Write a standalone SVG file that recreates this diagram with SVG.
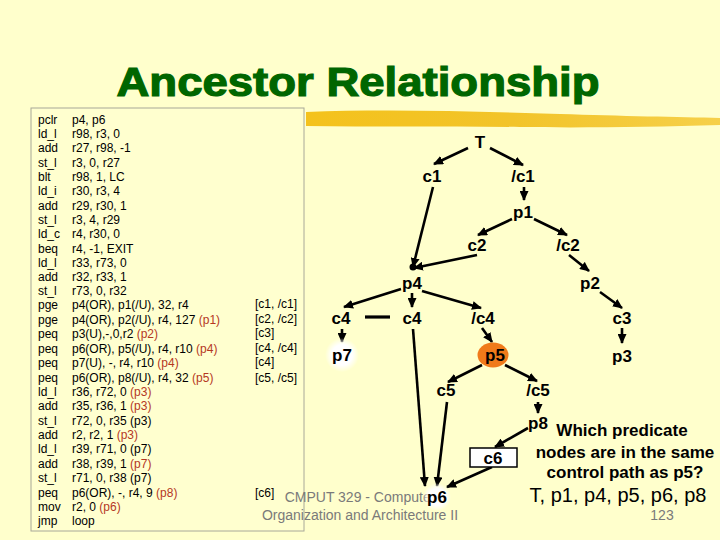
<svg xmlns="http://www.w3.org/2000/svg" width="720" height="540" viewBox="0 0 720 540">
<defs>
<style>
.code{font-family:"Liberation Sans",Arial,sans-serif;font-size:12px;fill:#000}
.red{fill:#B5371F}
.node{font-family:"Liberation Sans",Arial,sans-serif;font-size:17px;font-weight:bold;fill:#000;text-anchor:middle}
.q{font-family:"Liberation Sans",Arial,sans-serif;font-size:17px;font-weight:bold;fill:#000;text-anchor:middle}
.foot{font-family:"Liberation Sans",Arial,sans-serif;font-size:14px;fill:#7a7a7a;text-anchor:middle}
.e{stroke:#000;stroke-width:2.6;fill:none;marker-end:url(#ah)}
</style>
<marker id="ah" markerUnits="userSpaceOnUse" markerWidth="10" markerHeight="9" refX="9" refY="4.5" orient="auto">
<path d="M0,0 L10,4.5 L0,9 z" fill="#000"/>
</marker>
<radialGradient id="glow">
<stop offset="0" stop-color="#fff"/>
<stop offset="0.6" stop-color="#fff"/>
<stop offset="1" stop-color="#fff" stop-opacity="0"/>
</radialGradient>
<linearGradient id="brush" x1="0" y1="0" x2="1" y2="0">
<stop offset="0" stop-color="#F4C21C"/>
<stop offset="0.5" stop-color="#F2C42A"/>
<stop offset="1" stop-color="#F6D04A"/>
</linearGradient>
</defs>
<rect width="720" height="540" fill="#FFFFCC"/>
<text x="358" y="96" font-family="'Liberation Sans',Arial,sans-serif" font-size="41" font-weight="bold" fill="#006600" text-anchor="middle" textLength="483" lengthAdjust="spacingAndGlyphs" stroke="#006600" stroke-width="1.2">Ancestor Relationship</text>
<path d="M306,112 C380,109 470,111 560,114 C620,116 680,117 720,118 L720,125 C650,127 580,128 520,127 C440,126 370,127 306,126 Z" fill="url(#brush)"/>
<g id="code">
<rect x="31" y="108" width="273" height="423" fill="#FFFFCF" stroke="#A8A898" stroke-width="1"/>
<g class="code">
<text x="38" y="124">pclr</text><text x="72" y="124">p4, p6</text>
<text x="38" y="138">ld_l</text><text x="72" y="138">r98, r3, 0</text>
<text x="38" y="152">add</text><text x="72" y="152">r27, r98, -1</text>
<text x="38" y="167">st_l</text><text x="72" y="167">r3, 0, r27</text>
<text x="38" y="181">blt</text><text x="72" y="181">r98, 1, LC</text>
<text x="38" y="195">ld_i</text><text x="72" y="195">r30, r3, 4</text>
<text x="38" y="210">add</text><text x="72" y="210">r29, r30, 1</text>
<text x="38" y="224">st_l</text><text x="72" y="224">r3, 4, r29</text>
<text x="38" y="238">ld_c</text><text x="72" y="238">r4, r30, 0</text>
<text x="38" y="253">beq</text><text x="72" y="253">r4, -1, EXIT</text>
<text x="38" y="267">ld_l</text><text x="72" y="267">r33, r73, 0</text>
<text x="38" y="281">add</text><text x="72" y="281">r32, r33, 1</text>
<text x="38" y="295">st_l</text><text x="72" y="295">r73, 0, r32</text>
<text x="38" y="309">pge</text><text x="72" y="309">p4(OR), p1(/U), 32, r4</text>
<text x="38" y="324">pge</text><text x="72" y="324">p4(OR), p2(/U), r4, 127 <tspan class="red">(p1)</tspan></text>
<text x="38" y="338">peq</text><text x="72" y="338">p3(U),-,0,r2 <tspan class="red">(p2)</tspan></text>
<text x="38" y="353">peq</text><text x="72" y="353">p6(OR), p5(/U), r4, r10 <tspan class="red">(p4)</tspan></text>
<text x="38" y="367">peq</text><text x="72" y="367">p7(U), -, r4, r10 <tspan class="red">(p4)</tspan></text>
<text x="38" y="382">peq</text><text x="72" y="382">p6(OR), p8(/U), r4, 32 <tspan class="red">(p5)</tspan></text>
<text x="38" y="396">ld_l</text><text x="72" y="396">r36, r72, 0 <tspan class="red">(p3)</tspan></text>
<text x="38" y="410">add</text><text x="72" y="410">r35, r36, 1 <tspan class="red">(p3)</tspan></text>
<text x="38" y="425">st_l</text><text x="72" y="425">r72, 0, r35 (p3)</text>
<text x="38" y="439">add</text><text x="72" y="439">r2, r2, 1 <tspan class="red">(p3)</tspan></text>
<text x="38" y="453">ld_l</text><text x="72" y="453">r39, r71, 0 (p7)</text>
<text x="38" y="468">add</text><text x="72" y="468">r38, r39, 1 <tspan class="red">(p7)</tspan></text>
<text x="38" y="482">st_l</text><text x="72" y="482">r71, 0, r38 (p7)</text>
<text x="38" y="497">peq</text><text x="72" y="497">p6(OR), -, r4, 9 <tspan class="red">(p8)</tspan></text>
<text x="38" y="511">mov</text><text x="72" y="511">r2, 0 <tspan class="red">(p6)</tspan></text>
<text x="38" y="525">jmp</text><text x="72" y="525">loop</text>
<text x="255" y="308">[c1, /c1]</text>
<text x="255" y="323">[c2, /c2]</text>
<text x="255" y="337">[c3]</text>
<text x="255" y="352">[c4, /c4]</text>
<text x="255" y="366">[c4]</text>
<text x="255" y="382">[c5, /c5]</text>
<text x="255" y="497">[c6]</text>
</g>
</g>
<g id="footer">
<text class="foot" x="360" y="502">CMPUT 329 - Computer</text>
<text class="foot" x="360" y="520">Organization and Architecture II</text>
<text class="foot" x="662" y="520">123</text>
</g>
<g id="connectors">
<line class="e" x1="468" y1="148" x2="434" y2="164"/>
<line class="e" x1="490" y1="148" x2="523" y2="165"/>
<line class="e" x1="524" y1="187" x2="524" y2="200"/>
<line class="e" x1="512" y1="219" x2="478" y2="235"/>
<line class="e" x1="534" y1="219" x2="567" y2="235"/>
<line class="e" x1="433" y1="187" x2="413" y2="267"/>
<line class="e" x1="477" y1="255" x2="414" y2="268"/>
<circle cx="413" cy="267" r="3.5" fill="#000"/>
<line class="e" x1="569" y1="255" x2="589" y2="271"/>
<line class="e" x1="401" y1="289" x2="344" y2="307"/>
<line class="e" x1="412" y1="293" x2="412" y2="307"/>
<line class="e" x1="422" y1="291" x2="481" y2="308"/>
<line class="e" x1="600" y1="292" x2="622" y2="308"/>
<line x1="365" y1="317" x2="390" y2="317" stroke="#000" stroke-width="3.2"/>
<line class="e" x1="342" y1="329" x2="342" y2="342"/>
<line class="e" x1="413" y1="329" x2="425" y2="486"/>
<line class="e" x1="482" y1="328" x2="492" y2="342"/>
<line class="e" x1="482" y1="365" x2="448" y2="382"/>
<line class="e" x1="505" y1="365" x2="537" y2="381"/>
<line class="e" x1="622" y1="328" x2="622" y2="343"/>
<line class="e" x1="447" y1="402" x2="437" y2="486"/>
<line class="e" x1="538" y1="402" x2="538" y2="413"/>
<line class="e" x1="528" y1="428" x2="495" y2="447"/>
<line class="e" x1="492" y1="467" x2="447" y2="487"/>
</g>
<g id="n-T"><text class="node" x="480" y="148">T</text></g>
<g id="n-c1"><text class="node" x="432" y="182">c1</text></g>
<g id="n-nc1"><text class="node" x="523" y="182">/c1</text></g>
<g id="n-p1"><text class="node" x="523" y="218">p1</text></g>
<g id="n-c2"><text class="node" x="477" y="251">c2</text></g>
<g id="n-nc2"><text class="node" x="568" y="251">/c2</text></g>
<g id="n-p4"><text class="node" x="412" y="289">p4</text></g>
<g id="n-p2"><text class="node" x="590" y="289">p2</text></g>
<g id="n-c4a"><text class="node" x="341" y="324">c4</text></g>
<g id="n-c4b"><text class="node" x="412" y="324">c4</text></g>
<g id="n-nc4"><text class="node" x="483" y="324">/c4</text></g>
<g id="n-c3"><text class="node" x="622" y="324">c3</text></g>
<g id="n-p7"><circle cx="342" cy="355" r="17" fill="url(#glow)"/><text class="node" x="342" y="361">p7</text></g>
<g id="n-p5"><ellipse cx="493" cy="355" rx="15.5" ry="12.5" fill="#F07A1A"/><text class="node" x="495" y="361">p5</text></g>
<g id="n-p3"><text class="node" x="622" y="362">p3</text></g>
<g id="n-c5"><text class="node" x="446" y="396">c5</text></g>
<g id="n-nc5"><text class="node" x="538" y="396">/c5</text></g>
<g id="n-p8"><text class="node" x="538" y="429">p8</text></g>
<g id="n-c6"><rect x="470" y="448" width="47" height="19" fill="#fff" stroke="#000" stroke-width="1.5"/><text class="node" x="493" y="464">c6</text></g>
<g id="n-p6"><circle cx="437" cy="497" r="14" fill="url(#glow)"/><text class="node" x="437" y="503">p6</text></g>
<g id="question">
<text class="q" x="622" y="436">Which predicate</text>
<text class="q" x="625" y="458">nodes are in the same</text>
<text class="q" x="625" y="478">control path as p5?</text>
<text x="618" y="502" font-family="'Liberation Sans',Arial,sans-serif" font-size="20" text-anchor="middle" fill="#000">T, p1, p4, p5, p6, p8</text>
</g>
</svg>
